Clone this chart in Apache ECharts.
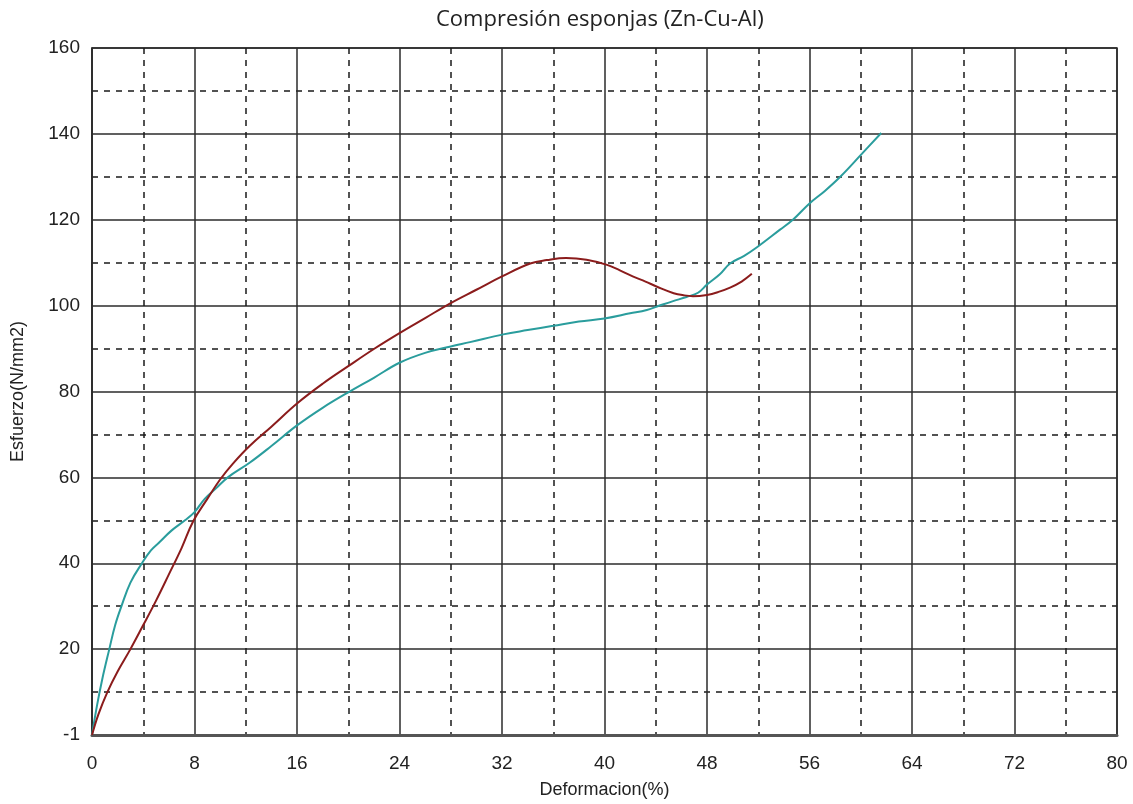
<!DOCTYPE html>
<html>
<head>
<meta charset="utf-8">
<script src="https://cdn.jsdelivr.net/npm/echarts@6/dist/echarts.min.js"></script>
<style>html,body{margin:0;padding:0;background:#fff}#c{width:1133px;height:804px}</style>
</head>
<body>
<div id="c"></div>
<script>
const titleText = 'Compresión esponjas (Zn-Cu-Al)';
const xName = 'Deformacion(%)';
const yName = 'Esfuerzo(N/mm2)';
const yTickLabels = {0:'-1',20:'20',40:'40',60:'60',80:'80',100:'100',120:'120',140:'140',160:'160'};

// Teal curve (x: deformation %, y: stress)
const tealX = [0, 0.4, 0.8, 1.35, 1.8, 2.3, 3, 3.9, 4.6, 5.3, 6.2, 7.26, 8, 8.8, 9.7, 10.6, 12.3, 14, 16, 18, 20, 22, 24, 26, 28, 29.5, 32.1, 34, 36, 38, 40, 42, 43.3, 44.1, 45.3, 46.4, 47.3, 48, 49, 49.8, 50.9, 51.9, 53.7, 54.7, 56, 57.2, 58.4, 60.1, 61.6];
const tealY = [0, 7, 13, 20, 25.5, 30, 35.5, 40, 43, 45, 47.6, 50, 51.9, 55, 57.5, 60, 63.4, 67.3, 72.1, 76.2, 79.8, 83.2, 86.7, 89, 90.5, 91.5, 93.3, 94.3, 95.3, 96.3, 97, 98.2, 99, 99.8, 101, 102, 103, 104.9, 107.3, 109.8, 111.6, 113.6, 117.7, 120, 123.8, 126.7, 130, 135.4, 140.2];

// Dark red curve
const redX = [0, 0.5, 1.2, 2, 3, 4, 5, 6, 7, 7.9, 9, 10, 11, 12.3, 14, 16, 18, 20, 22, 24, 26, 28, 30, 32, 34.2, 35.5, 37, 38.6, 40.2, 41.2, 42.2, 43.2, 44.1, 45.4, 46.2, 46.9, 48, 48.9, 49.8, 50.7, 51.5];
const redY = [0, 4.8, 10, 14.8, 20, 25.6, 31.3, 37.4, 43.6, 49.8, 55, 59.5, 63.2, 67.3, 71.8, 77.2, 81.8, 85.9, 89.9, 93.6, 97.1, 100.6, 103.7, 106.8, 109.8, 110.6, 111.1, 110.7, 109.5, 108.2, 106.8, 105.6, 104.4, 102.9, 102.4, 102.2, 102.5, 103.2, 104.2, 105.6, 107.4];

const zip = (xs, ys) => xs.map((x, i) => [x, ys[i]]);

const chart = echarts.init(document.getElementById('c'));
const gridLine = {show: true, lineStyle: {color: '#2b2b2b', width: 1.5}};
const minorLine = {show: true, lineStyle: {color: '#1a1a1a', width: 1.5, type: [6, 6]}};
chart.setOption({
  animation: false,
  backgroundColor: '#fff',
  title: {
    text: titleText, left: 431, top: 4,
    textStyle: {fontFamily: 'Open Sans', fontWeight: 'normal', fontSize: 22, color: '#222'}
  },
  grid: {left: 92, right: 16, top: 48, bottom: 68, show: true, borderColor: '#2b2b2b', borderWidth: 1.5},
  xAxis: {
    type: 'value', min: 0, max: 80, interval: 8,
    name: xName, nameLocation: 'middle', nameGap: 46,
    nameTextStyle: {fontFamily: 'Liberation Sans', fontSize: 18, color: '#222'},
    axisLine: {show: true, lineStyle: {color: '#555', width: 3}},
    axisTick: {show: false},
    minorTick: {show: false, splitNumber: 2},
    axisLabel: {fontFamily: 'Liberation Sans', fontSize: 19, color: '#222', margin: 19},
    splitLine: gridLine,
    minorSplitLine: minorLine
  },
  yAxis: {
    type: 'value', min: 0, max: 160, interval: 20,
    name: yName, nameLocation: 'middle', nameGap: 65,
    nameTextStyle: {fontFamily: 'Liberation Sans', fontSize: 18, color: '#222'},
    axisLine: {show: true, lineStyle: {color: '#2b2b2b', width: 1.5}},
    axisTick: {show: false},
    minorTick: {show: false, splitNumber: 2},
    axisLabel: {fontFamily: 'Liberation Sans', fontSize: 19, color: '#222', margin: 12,
      formatter: v => yTickLabels[v] !== undefined ? yTickLabels[v] : String(v)},
    splitLine: gridLine,
    minorSplitLine: minorLine
  },
  series: [
    {type: 'line', name: 'teal', data: zip(tealX, tealY), smooth: 0.4, showSymbol: false,
     lineStyle: {color: '#2a9d9d', width: 2}, z: 3},
    {type: 'line', name: 'red', data: zip(redX, redY), smooth: 0.4, showSymbol: false,
     lineStyle: {color: '#8b1c1c', width: 2}, z: 4}
  ]
});
</script>
</body>
</html>
